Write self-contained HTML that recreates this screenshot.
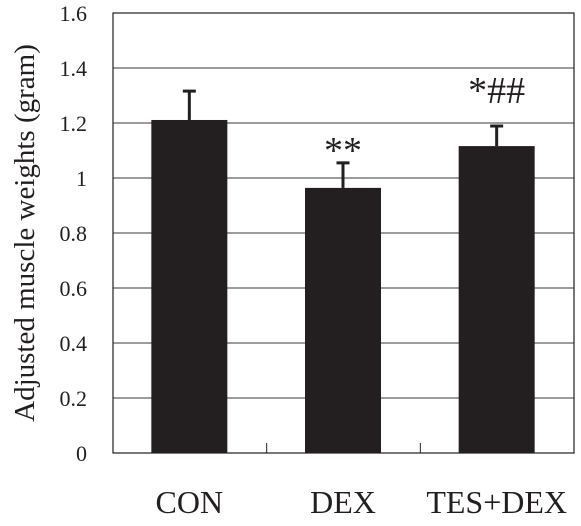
<!DOCTYPE html>
<html><head><style>body{margin:0;background:#fff}svg{display:block}text{font-family:"Liberation Serif",serif;fill:#231f20}</style></head>
<body>
<svg id="c" width="581" height="526"></svg>
<script>
const categories=["CON","DEX","TES+DEX"];
const values=[1.211,0.964,1.116];
const errors=[0.105,0.091,0.073];
const marks=["","**","*##"];
const ticks=[0,0.2,0.4,0.6,0.8,1,1.2,1.4,1.6];
const tickLabels=["0","0.2","0.4","0.6","0.8","1","1.2","1.4","1.6"];
const svg=document.getElementById('c');
const NS="http://www.w3.org/2000/svg";
const L=113,R=574,T=13,B=453;
const y=v=>B-(v/1.6)*(B-T);
const x=i=>L+(i+0.5)*(R-L)/3;
function el(t,a,p){const e=document.createElementNS(NS,t);for(const k in a)e.setAttribute(k,a[k]);(p||svg).appendChild(e);return e;}
ticks.forEach((v,i)=>{
 if(v>0){const g=el('line',{x1:L,x2:R,y1:y(v),y2:y(v),stroke:'#3a3a3a','stroke-width':1});
 
 }
 const t=el('text',{x:87,y:y(v)+8,'text-anchor':'end','font-size':22});
 t.textContent=tickLabels[i];
 
 
});
const fr=el('rect',{x:L,y:T,width:R-L,height:B-T,fill:'none',stroke:'#231f20','stroke-width':1.2});


[1,2].forEach(k=>{
 const xt=L+k*(R-L)/3;
 const tk=el('line',{x1:xt,x2:xt,y1:B,y2:B-10,stroke:'#231f20','stroke-width':1});
 
 
});
categories.forEach((c,i)=>{
 const cx=x(i)-0.5,w=76;
 const e=el('line',{x1:cx,x2:cx,y1:y(values[i]+errors[i]),y2:y(values[i]),stroke:'#231f20','stroke-width':3});
 
 
 const cap=el('line',{x1:cx-6.5,x2:cx+6.5,y1:y(values[i]+errors[i]),y2:y(values[i]+errors[i]),stroke:'#231f20','stroke-width':3});
 
 
 const b=el('rect',{x:cx-w/2,y:y(values[i]),width:w,height:B-y(values[i]),fill:'#231f20'});
 
 
 if(marks[i]){const m=el('text',{x:cx,y:y(values[i]+errors[i])+(i==2?-23:0),'text-anchor':'middle','font-size':38});
 m.textContent=marks[i];
 
 }
 const l=el('text',{x:cx,y:513,'text-anchor':'middle','font-size':32});
 l.textContent=c;
 
 
});
const yt=el('text',{x:0,y:0,'text-anchor':'middle','font-size':29,transform:'translate(34,233) rotate(-90)'});
yt.textContent='Adjusted muscle weights (gram)';


</script>
</body></html>
